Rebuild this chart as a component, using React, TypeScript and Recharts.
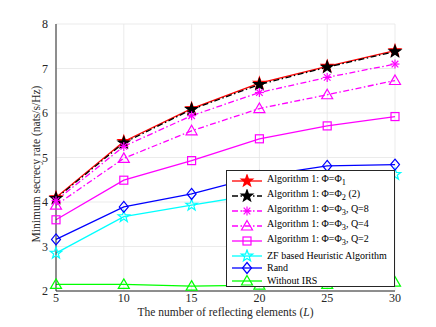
import { LineChart, Line, XAxis, YAxis, CartesianGrid, Label } from "recharts";

// Number of reflecting elements L
const L_VALUES = [5, 10, 15, 20, 25, 30];
const X_TICKS = [5, 10, 15, 20, 25, 30];
const Y_TICKS = [2, 3, 4, 5, 6, 7, 8];

// Minimum secrecy rate (nats/s/Hz)
const ALG_PHI1 = [4.1, 5.36, 6.1, 6.67, 7.05, 7.4];
const ALG_PHI2 = [4.08, 5.33, 6.08, 6.64, 7.03, 7.38];
const ALG_Q8 = [4.03, 5.25, 5.94, 6.46, 6.8, 7.1];
const ALG_Q4 = [3.93, 4.98, 5.6, 6.1, 6.41, 6.73];
const ALG_Q2 = [3.6, 4.49, 4.93, 5.42, 5.71, 5.92];
const ZF_HEURISTIC = [2.85, 3.67, 3.93, 4.18, 4.4, 4.62];
const RAND = [3.16, 3.89, 4.18, 4.58, 4.81, 4.84];
const WITHOUT_IRS = [2.15, 2.15, 2.11, 2.13, 2.15, 2.2];

const FONT = '"Liberation Serif", "Times New Roman", serif';
const DASH_DOT = "6 2.5 1.5 2.5";

type MarkerKind = "pentagram" | "asterisk" | "triangle" | "square" | "diamond";

interface Serie {
  key: string;
  name: React.ReactNode;
  color: string;
  dash?: string;
  marker: MarkerKind;
  fill?: string;
  values: number[];
}

const SERIES: Serie[] = [
  { key: "phi1", name: <>Algorithm 1: Φ=Φ<sub>1</sub></>, color: "#ff0000", marker: "pentagram", fill: "#ff0000", values: ALG_PHI1 },
  { key: "phi2", name: <>Algorithm 1: Φ=Φ<sub>2</sub> (2)</>, color: "#000000", dash: DASH_DOT, marker: "pentagram", fill: "#000000", values: ALG_PHI2 },
  { key: "q8", name: <>Algorithm 1: Φ=Φ<sub>3</sub>, Q=8</>, color: "#ff00ff", dash: DASH_DOT, marker: "asterisk", values: ALG_Q8 },
  { key: "q4", name: <>Algorithm 1: Φ=Φ<sub>3</sub>, Q=4</>, color: "#ff00ff", dash: DASH_DOT, marker: "triangle", values: ALG_Q4 },
  { key: "q2", name: <>Algorithm 1: Φ=Φ<sub>3</sub>, Q=2</>, color: "#ff00ff", marker: "square", values: ALG_Q2 },
  { key: "zf", name: "ZF based Heuristic Algorithm", color: "#00ffff", marker: "pentagram", values: ZF_HEURISTIC },
  { key: "rand", name: "Rand", color: "#0000ff", marker: "diamond", values: RAND },
  { key: "noirs", name: "Without IRS", color: "#00ff00", marker: "triangle", values: WITHOUT_IRS },
];

const rows = L_VALUES.map((l, i) => {
  const r: Record<string, number> = { L: l };
  SERIES.forEach((s) => (r[s.key] = s.values[i]));
  return r;
});

function starPoints(cx: number, cy: number, r: number) {
  const pts: string[] = [];
  for (let k = 0; k < 10; k++) {
    const rad = k % 2 === 0 ? r : r * 0.4;
    const a = -Math.PI / 2 + (k * Math.PI) / 5;
    pts.push(`${cx + rad * Math.cos(a)},${cy + rad * Math.sin(a)}`);
  }
  return pts.join(" ");
}

function Marker({ kind, cx, cy, color, fill }: { kind: MarkerKind; cx: number; cy: number; color: string; fill?: string }) {
  const sw = 1.2;
  switch (kind) {
    case "pentagram":
      return <polygon points={starPoints(cx, cy, 6)} fill={fill || "none"} stroke={color} strokeWidth={sw} />;
    case "asterisk":
      return (
        <g stroke={color} strokeWidth={sw}>
          <line x1={cx - 4.5} y1={cy} x2={cx + 4.5} y2={cy} />
          <line x1={cx} y1={cy - 4.5} x2={cx} y2={cy + 4.5} />
          <line x1={cx - 3.3} y1={cy - 3.3} x2={cx + 3.3} y2={cy + 3.3} />
          <line x1={cx - 3.3} y1={cy + 3.3} x2={cx + 3.3} y2={cy - 3.3} />
        </g>
      );
    case "triangle":
      return <polygon points={`${cx},${cy - 5.5} ${cx + 5.5},${cy + 4} ${cx - 5.5},${cy + 4}`} fill="none" stroke={color} strokeWidth={sw} />;
    case "square":
      return <rect x={cx - 4} y={cy - 4} width={8} height={8} fill="none" stroke={color} strokeWidth={sw} />;
    case "diamond":
      return <polygon points={`${cx},${cy - 5.5} ${cx + 4.5},${cy} ${cx},${cy + 5.5} ${cx - 4.5},${cy}`} fill="none" stroke={color} strokeWidth={sw} />;
  }
}

// legend row centres (px from the legend box top)
const LEGEND_ROWS = [10, 25, 40, 55, 70, 85, 97, 110];

function LegendBox() {
  return (
    <div
      style={{
        position: "absolute",
        left: 226,
        top: 170,
        width: 169,
        height: 117,
        background: "#fff",
        border: "1px solid #262626",
        boxSizing: "border-box",
        fontFamily: FONT,
        fontSize: 10,
        color: "#000",
      }}
    >
      {SERIES.map((s, i) => (
        <div key={s.key} style={{ position: "absolute", left: 4, top: LEGEND_ROWS[i] - 7, height: 14, display: "flex", alignItems: "center", whiteSpace: "nowrap" }}>
          <svg width={32} height={14} style={{ flex: "none" }}>
            <line x1={1} y1={7} x2={31} y2={7} stroke={s.color} strokeWidth={1.3} strokeDasharray={s.dash} />
            <Marker kind={s.marker} cx={16} cy={7} color={s.color} fill={s.fill} />
          </svg>
          <span style={{ marginLeft: 4, lineHeight: "14px" }}>{s.name}</span>
        </div>
      ))}
    </div>
  );
}

export default function App() {
  return (
    <div style={{ position: "absolute", left: 0, top: 0, width: 436, height: 327, background: "#fff" }}>
      <LineChart width={436} height={327} data={rows} margin={{ top: 24, right: 41, bottom: 16, left: 26 }}>
        <CartesianGrid stroke="#e6e6e6" strokeWidth={0.8} />
        <XAxis
          dataKey="L"
          type="number"
          domain={[5, 30]}
          ticks={X_TICKS}
          height={20}
          tickLine={false}
          tickSize={2}
          tickMargin={0}
          axisLine={{ stroke: "#262626" }}
          tick={{ fill: "#262626", fontSize: 12, fontFamily: FONT }}
        >
          <Label
            position="bottom"
            content={({ viewBox }: any) => (
              <text x={viewBox.x + viewBox.width / 2} y={316} textAnchor="middle" fontFamily={FONT} fontSize={11.5} fill="#262626">
                The number of reflecting elements (<tspan fontStyle="italic">L</tspan>)
              </text>
            )}
          />
        </XAxis>
        <XAxis xAxisId="top" orientation="top" type="number" domain={[5, 30]} ticks={X_TICKS} height={0} tick={false} tickLine={false} axisLine={{ stroke: "#262626" }} />
        <YAxis
          type="number"
          domain={[2, 8]}
          ticks={Y_TICKS}
          width={30}
          tickLine={false}
          axisLine={{ stroke: "#262626" }}
          tick={{ fill: "#262626", fontSize: 12, fontFamily: FONT }}
        >
          <Label
            content={() => (
              <text x={0} y={0} transform="translate(36,164) rotate(-90)" textAnchor="middle" dominantBaseline="central" fontFamily={FONT} fontSize={11.5} fill="#262626">
                Minimum secrecy rate (nats/s/Hz)
              </text>
            )}
          />
        </YAxis>
        <YAxis yAxisId="right" orientation="right" type="number" domain={[2, 8]} ticks={Y_TICKS} width={0} tick={false} tickLine={false} axisLine={{ stroke: "#262626" }} />
        {SERIES.map((s) => (
          <Line
            key={s.key}
            dataKey={s.key}
            stroke={s.color}
            strokeWidth={1.3}
            strokeDasharray={s.dash}
            isAnimationActive={false}
            dot={(p: any) => (
              <g key={`${s.key}-${p.index}`}>
                <Marker kind={s.marker} cx={p.cx} cy={p.cy} color={s.color} fill={s.fill} />
              </g>
            )}
            activeDot={false}
          />
        ))}
      </LineChart>
      <LegendBox />
    </div>
  );
}
